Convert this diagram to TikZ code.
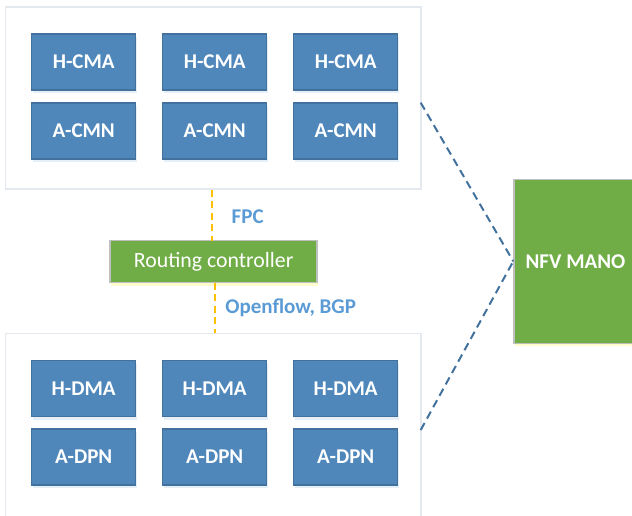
\documentclass[tikz,border=0pt]{standalone}
\usepackage{fontspec}
\setmainfont{Carlito}
\usetikzlibrary{shadows}
\definecolor{boxblue}{HTML}{4F87BB}
\definecolor{boxedge}{HTML}{41719C}
\definecolor{mgreen}{HTML}{70AD47}
\definecolor{gedge}{HTML}{BFBFBF}
\definecolor{frame}{HTML}{E4E8EF}
\definecolor{lblue}{HTML}{5B9BD5}
\definecolor{dorange}{HTML}{FFC000}
\definecolor{dblue}{HTML}{41719C}
\tikzset{
  grp/.style={draw=frame, line width=1.5pt, fill=white, inner sep=0pt},
  unit/.style={draw=boxedge, line width=1.2pt, fill=boxblue, text=white,
    font=\fontsize{21}{24}\selectfont\bfseries, minimum width=104pt,
    minimum height=56pt, inner sep=0pt,
    drop shadow={shadow xshift=1pt, shadow yshift=-3pt, fill=lblue!35, opacity=0.45}},
  gbox/.style={draw=gedge, line width=1.5pt, fill=mgreen, text=white, inner sep=0pt,
    drop shadow={shadow xshift=1pt, shadow yshift=-3pt, fill=yellow!40, opacity=0.5}},
  ifc/.style={text=lblue, font=\fontsize{21}{24}\selectfont\bfseries, inner sep=0pt},
  ctl/.style={draw=dorange, line width=2.2pt, dash pattern=on 7pt off 4.5pt},
  mgmt/.style={draw=dblue, line width=2pt, dash pattern=on 8pt off 5pt},
}
\begin{document}
\begin{tikzpicture}[x=1pt, y=-1pt]
\useasboundingbox (0,0) rectangle (632,515);
\clip (0,0) rectangle (632,515);

% control-plane and data-plane groups
\node[grp, minimum width=415.7pt, minimum height=182.3pt] (cp) at (213.2,97.9) {};
\node[grp, minimum width=415.7pt, minimum height=200pt] (dp) at (213.2,433.3) {};

% control-plane units
\node[unit] (h1) at (83.7,62) {H-CMA};
\node[unit] (h2) at (214.7,62) {H-CMA};
\node[unit] (h3) at (345.7,62) {H-CMA};
\node[unit] (c1) at (83.7,131) {A-CMN};
\node[unit] (c2) at (214.7,131) {A-CMN};
\node[unit] (c3) at (345.7,131) {A-CMN};

% data-plane units
\node[unit] (d1) at (83.7,388.7) {H-DMA};
\node[unit] (d2) at (214.7,388.7) {H-DMA};
\node[unit] (d3) at (345.7,388.7) {H-DMA};
\node[unit] (p1) at (83.7,457) {A-DPN};
\node[unit] (p2) at (214.7,457) {A-DPN};
\node[unit] (p3) at (345.7,457) {A-DPN};

% routing controller
\node[gbox, minimum width=207pt, minimum height=42pt,
      font=\fontsize{21.8}{24}\selectfont] (rc) at (213.7,261.7) {Routing controller};

% orchestrator
\node[gbox, minimum width=123pt, minimum height=164pt,
      font=\fontsize{21}{24}\selectfont\bfseries] (nfv) at (575.5,261.3) {NFV MANO};

% interface links
\coordinate (rcu) at (212.3,240.7);
\coordinate (rcd) at (215,282.7);
\draw[ctl] (cp.south -| rcu) -- (rcu);
\draw[ctl] (rcd) -- (dp.north -| rcd);
\node[ifc] (fpc) at (247.7,216.7) {FPC};
\node[ifc] (ofb) at (290.7,307.7) {Openflow, BGP};

% management links
\coordinate (m1) at (420.7,102.7);
\coordinate (m2) at (420.7,430);
\draw[mgmt] (m1) -- (nfv.west);
\draw[mgmt] (m2) -- (nfv.west);
\end{tikzpicture}
\end{document}
